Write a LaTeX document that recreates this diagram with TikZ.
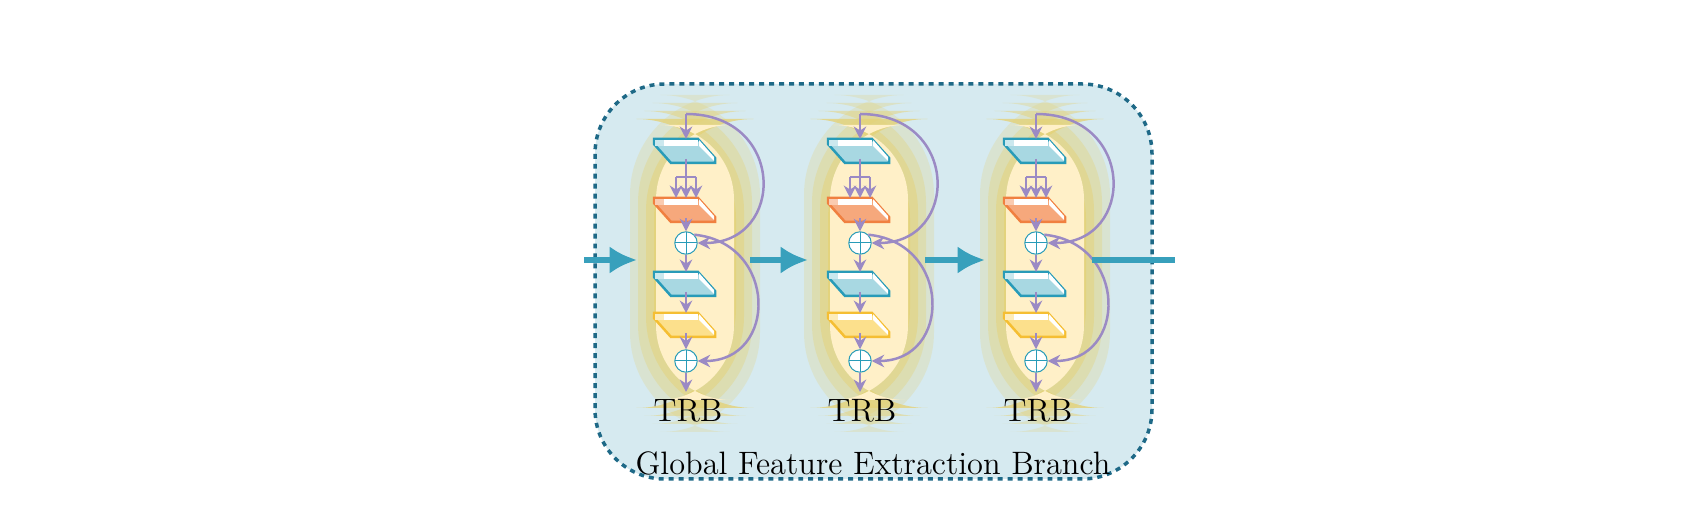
\documentclass[tikz,border=0pt]{standalone}
\usetikzlibrary{arrows.meta}
\definecolor{boxfill}{RGB}{214,234,240}
\definecolor{boxline}{RGB}{30,105,135}
\definecolor{flow}{RGB}{56,160,188}
\definecolor{skip}{RGB}{155,138,196}
\definecolor{glow}{RGB}{228,210,120}
\definecolor{glowin}{RGB}{255,240,200}
\definecolor{blueS}{RGB}{168,216,226}\definecolor{blueD}{RGB}{40,155,184}
\definecolor{orS}{RGB}{246,168,124}\definecolor{orD}{RGB}{240,128,64}
\definecolor{yeS}{RGB}{252,224,140}\definecolor{yeD}{RGB}{245,190,50}
\tikzset{flowarrow/.style={draw=flow,line width=2.2pt,-{Latex[length=11pt,width=11pt]}},
         skiparrow/.style={draw=skip,line width=1pt,-{Stealth[length=5pt,width=5pt]}},
         plus/.style={circle,draw=blueD,fill=white,inner sep=0pt,minimum size=9pt,
                      path picture={\draw[blueD,thin] (path picture bounding box.north) -- (path picture bounding box.south)
                                    (path picture bounding box.west) -- (path picture bounding box.east);}},
         label/.style={font=\fontsize{13}{15}\selectfont},
         slab/.pic={
            \filldraw[fill=#1S,draw=#1D,line width=1pt] (-32,-12) -- (12,-12) -- (29,7) -- (29,12) -- (-15,12) -- (-32,-7) -- cycle;
            \fill[white] (-31,-11) -- (12,-11) -- (12,-5) -- (-31,-5) -- cycle;
            \fill[#1S!60] (-31,-11) -- (-22,-11) -- (-22,-5) -- (-31,-5) -- cycle;
            \fill[white] (13,-11) -- (28,6) -- (28,10) -- (13,-5) -- cycle;
            \coordinate (-top) at (0,-12);
            \coordinate (-bot) at (0,8);}}
\begin{document}
\begin{tikzpicture}[x=0.141mm,y=-0.141mm]
    \useasboundingbox (0,0) rectangle (1704,518);
    % outer branch box
    \draw[fill=boxfill,draw=boxline,line width=1.4pt,dash pattern=on 2pt off 2pt,rounded corners=28]
        (595,84) rectangle (1152,479);
    \node[label] (branch) at (873,463) {Global Feature Extraction Branch};

    % one TRB per column
    \foreach \i/\cx in {1/686,2/860,3/1036} {
        % glow behind the block
        \foreach \g/\o in {0/0.25,8/0.35,16/0.5,24/0.8}
            \fill[glow,opacity=\o,rounded corners=40] (\cx-56+\g,95+\g) rectangle (\cx+74-\g,432-\g);
        \fill[glowin,rounded corners=30] (\cx-30,125) rectangle (\cx+48,400);

        \coordinate (in-\i) at (\cx,114);
        \path (\cx,151) pic (a-\i) {slab=blue};
        \path (\cx,210) pic (b-\i) {slab=or};
        \node[plus] (p-\i) at (\cx,243) {};
        \path (\cx,284) pic (c-\i) {slab=blue};
        \path (\cx,325) pic (d-\i) {slab=ye};
        \node[plus] (q-\i) at (\cx,361) {};
        \coordinate (out-\i) at (\cx,392);
        \node[label] (trb-\i) at (\cx+2,411) {TRB};

        \draw[skiparrow] (in-\i) -- (a-\i-top);
        \draw[draw=skip,line width=1pt] (a-\i-bot) -- (\cx,177) (\cx-10,177) -- (\cx+10,177);
        \foreach \dx in {-10,0,10}
            \draw[skiparrow] (\cx+\dx,177) -- (\cx+\dx,198);
        \draw[skiparrow] (b-\i-bot) -- (p-\i);
        \draw[skiparrow] (p-\i) -- (c-\i-top);
        \draw[skiparrow] (c-\i-bot) -- (d-\i-top);
        \draw[skiparrow] (d-\i-bot) -- (q-\i);
        \draw[skiparrow] (q-\i) -- (out-\i);
        % residual arcs
        \draw[skiparrow] (in-\i) .. controls (\cx+100,114) and (\cx+100,243) .. (p-\i);
        \draw[skiparrow] (p-\i.north east) .. controls (\cx+92,243) and (\cx+92,361) .. (q-\i);
    }

    % flow between blocks
    \coordinate (src) at (584,260);
    \coordinate (e1) at (637,260);
    \coordinate (s2) at (750,260);
    \coordinate (e2) at (808,260);
    \coordinate (s3) at (925,260);
    \coordinate (e3) at (985,260);
    \coordinate (s4) at (1092,260);
    \coordinate (dst) at (1175,260);
    \draw[flowarrow] (src) -- (e1);
    \draw[flowarrow] (s2) -- (e2);
    \draw[flowarrow] (s3) -- (e3);
    \draw[draw=flow,line width=2.2pt] (s4) -- (dst);
\end{tikzpicture}
\end{document}
